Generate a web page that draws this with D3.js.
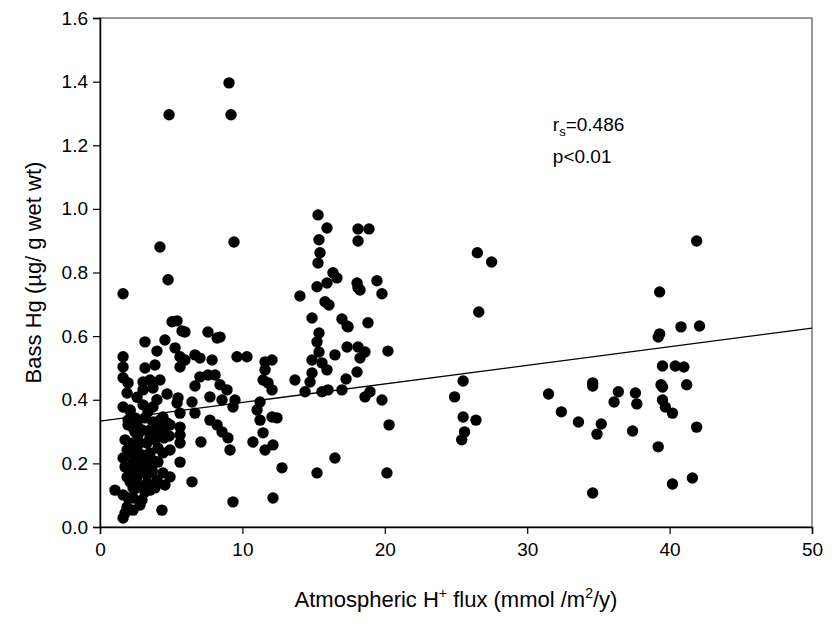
<!DOCTYPE html>
<html><head><meta charset="utf-8">
<script src="https://cdn.jsdelivr.net/npm/d3@7"></script>
<style>
html,body{margin:0;padding:0;background:#fff;}
svg text{font-family:"Liberation Sans",Arial,sans-serif;fill:#000;}
</style></head>
<body><svg id="chart" width="838" height="624"></svg>
<script>
// H+ flux (mmol/m2/y)
const fluxX = [
1.05,1.62,1.62,1.62,1.62,1.97,1.90,1.62,2.11,2.46,1.62,1.76,2.11,2.60,3.02,3.51,2.11,2.60,3.02,3.51,
2.32,2.81,3.30,2.95,1.90,2.60,3.30,1.62,1.97,2.32,2.95,3.51,3.86,1.90,1.76,1.62,4.35,3.02,3.72,5.41,
4.42,4.71,5.62,4.21,4.56,4.92,5.62,5.62,5.62,4.42,4.92,5.62,4.42,4.92,4.56,6.46,4.78,5.06,5.41,5.76,
3.16,4.56,4.00,5.27,5.62,5.62,3.16,3.86,3.02,3.51,4.21,3.02,3.72,4.71,5.48,4.21,4.85,
1.97,2.32,2.67,3.16,3.51,3.86,2.32,3.16,2.81,2.46,3.30,3.86,4.00,3.72,2.60,2.11,3.58,4.07,3.65,2.95,4.49,4.86,
1.97,2.46,3.51,3.86,1.76,2.67,3.37,4.07,2.11,2.81,3.65,2.32,3.16,4.00,2.81,2.32,4.21,3.37,2.60,1.90,
5.97,7.58,8.22,6.67,7.02,5.97,7.87,9.62,10.32,11.59,12.08,7.02,7.58,8.08,6.67,8.43,8.92,11.59,11.45,11.80,12.08,
6.46,7.72,8.57,9.48,11.24,6.67,9.34,7.72,8.22,8.57,8.99,9.13,7.09,11.03,11.24,11.45,11.59,12.08,10.74,12.15,
9.34,12.15,12.78,8.43,9.06,9.20,9.41,12.43,
15.31,15.94,15.38,15.45,15.31,16.36,16.64,15.94,15.24,14.04,15.80,16.08,14.89,16.99,17.35,17.42,18.82,15.38,15.24,15.38,
16.50,17.35,18.12,18.61,18.26,20.22,14.89,15.59,15.94,14.89,14.75,18.05,17.28,13.69,14.40,15.59,16.01,16.99,18.96,18.61,
19.80,18.12,18.89,18.12,18.05,18.12,18.26,19.45,19.80,15.24,16.50,20.30,20.15,
26.5,27.5,26.6,41.9,39.3,40.8,42.1,39.2,39.3,25.5,24.9,25.5,26.4,25.6,25.4,31.5,32.4,33.6,34.6,34.6,
35.2,34.9,34.6,36.4,36.1,37.6,37.7,37.4,39.5,40.4,41.0,39.4,39.5,41.2,39.5,39.7,40.2,41.9,39.2,40.2,41.6
];
// Bass Hg (ug/g wet wt)
const hgY = [
0.116,0.733,0.535,0.503,0.469,0.453,0.421,0.377,0.368,0.343,0.217,0.189,0.179,0.189,0.195,0.201,0.233,0.242,0.226,0.233,
0.264,0.264,0.264,0.305,0.157,0.157,0.164,0.101,0.091,0.091,0.085,0.116,0.123,0.063,0.044,0.028,0.053,0.384,0.377,0.390,
0.346,0.327,0.358,0.296,0.314,0.321,0.314,0.289,0.264,0.233,0.242,0.204,0.170,0.157,0.132,0.142,0.777,0.645,0.648,0.616,
0.582,0.588,0.553,0.563,0.535,0.503,0.500,0.509,0.456,0.462,0.462,0.431,0.437,0.418,0.406,0.880,1.296,
0.336,0.311,0.289,0.343,0.305,0.274,0.204,0.220,0.130,0.120,0.138,0.207,0.400,0.330,0.408,0.365,0.283,0.248,0.175,0.195,0.280,0.286,
0.321,0.299,0.283,0.321,0.274,0.226,0.211,0.204,0.142,0.179,0.179,0.123,0.110,0.148,0.069,0.053,0.336,0.362,0.321,0.242,
0.613,0.613,0.594,0.541,0.531,0.525,0.525,0.535,0.535,0.519,0.525,0.472,0.478,0.478,0.443,0.447,0.431,0.494,0.462,0.453,0.431,
0.393,0.409,0.399,0.399,0.393,0.358,0.377,0.336,0.321,0.299,0.280,0.242,0.267,0.368,0.336,0.296,0.242,0.346,0.267,0.258,
0.079,0.091,0.186,0.597,1.396,1.296,0.896,0.343,
0.981,0.940,0.903,0.862,0.830,0.799,0.783,0.767,0.755,0.726,0.708,0.698,0.657,0.654,0.632,0.629,0.642,0.610,0.582,0.550,
0.541,0.566,0.566,0.550,0.531,0.553,0.525,0.516,0.494,0.484,0.456,0.487,0.465,0.462,0.425,0.425,0.431,0.431,0.425,0.409,
0.399,0.937,0.937,0.899,0.767,0.752,0.745,0.774,0.733,0.170,0.217,0.321,0.170,
0.862,0.833,0.676,0.899,0.739,0.629,0.632,0.597,0.607,0.459,0.409,0.346,0.336,0.299,0.274,0.418,0.362,0.330,0.453,0.443,
0.324,0.292,0.107,0.425,0.393,0.421,0.387,0.302,0.506,0.506,0.503,0.447,0.440,0.447,0.399,0.377,0.358,0.314,0.252,0.135,0.154
];
const fitX = [0, 50];
const fitY = [0.333, 0.625];
const xTicks = [0, 10, 20, 30, 40, 50];
const yTicks = [0, 0.2, 0.4, 0.6, 0.8, 1.0, 1.2, 1.4, 1.6];
const statLines = ["=0.486", "p<0.01"];

const svg = d3.select("#chart");
const m = {left:100, right:812, top:18, bottom:527};
const x = d3.scaleLinear().domain([0,50]).range([m.left, m.right]);
const y = d3.scaleLinear().domain([0,1.6]).range([m.bottom, m.top]);

// frame
svg.append("rect").attr("x",m.left).attr("y",m.top).attr("width",m.right-m.left).attr("height",m.bottom-m.top)
  .attr("fill","none").attr("stroke","#333").attr("stroke-width",1);

// points
const pts = fluxX.map((v,i)=>({x:v,y:hgY[i]}));
svg.append("g").selectAll("circle").data(pts).join("circle")
  .attr("cx",d=>x(d.x)).attr("cy",d=>y(d.y)).attr("r",5.7).attr("fill","#000");

// regression line
svg.append("line").attr("x1",x(fitX[0])).attr("y1",y(fitY[0])).attr("x2",x(fitX[1])).attr("y2",y(fitY[1]))
  .attr("stroke","#000").attr("stroke-width",1.3);

// axes
const xAxis = d3.axisBottom(x).tickValues(xTicks).tickFormat(d3.format("d")).tickSize(7).tickPadding(9);
const gx = svg.append("g").attr("transform",`translate(0,${m.bottom})`).call(xAxis);
const yAxis = d3.axisLeft(y).tickValues(yTicks).tickFormat(d3.format(".1f")).tickSize(7).tickPadding(5);
const gy = svg.append("g").attr("transform",`translate(${m.left},0)`).call(yAxis);
[gx,gy].forEach(g=>{
  g.select(".domain").attr("stroke","#000").attr("stroke-width",1.5);
  g.selectAll(".tick line").attr("stroke","#000").attr("stroke-width",1.2);
  g.selectAll(".tick text").attr("font-size",19).attr("font-family","Liberation Sans, Arial, sans-serif").attr("fill","#000");
});

// axis titles
const xt = svg.append("text").attr("x",(m.left+m.right)/2).attr("y",607).attr("text-anchor","middle").attr("font-size",22);
xt.append("tspan").text("Atmospheric H");
xt.append("tspan").text("+").attr("font-size",14).attr("dy",-9);
xt.append("tspan").text(" flux (mmol /m").attr("font-size",22).attr("dy",9);
xt.append("tspan").text("2").attr("font-size",14).attr("dy",-9);
xt.append("tspan").text("/y)").attr("font-size",22).attr("dy",9);

svg.append("text").attr("transform",`translate(41,${(m.top+m.bottom)/2}) rotate(-90)`)
  .attr("text-anchor","middle").attr("font-size",22).text("Bass Hg (\u00B5g/ g wet wt)");

// stats annotation
const st = svg.append("text").attr("x",x(31.8)).attr("y",y(1.245)).attr("font-size",19);
st.append("tspan").text("r");
st.append("tspan").text("s").attr("font-size",13).attr("dy",5);
st.append("tspan").text(statLines[0]).attr("dy",-5);
svg.append("text").attr("x",x(31.8)).attr("y",y(1.145)).attr("font-size",19).text(statLines[1]);
</script></body></html>
